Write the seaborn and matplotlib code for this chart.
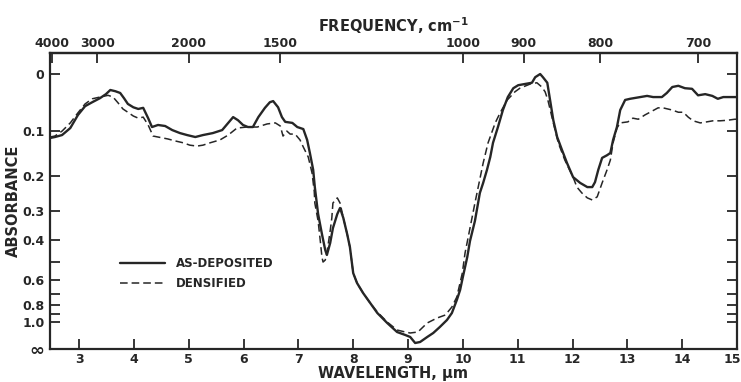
import numpy as np
import pandas as pd
import matplotlib
matplotlib.use("Agg")
import matplotlib.pyplot as plt
import matplotlib.transforms as mtransforms
import seaborn as sns

# ---- data (wavelength in µm, absorbance) ----
wl_as = [2.47, 2.56, 2.69, 2.84, 2.98, 3.11, 3.24, 3.38, 3.49, 3.57, 3.66, 3.75, 3.82, 3.89, 3.99,
         4.08, 4.17, 4.26, 4.33, 4.44, 4.57, 4.70, 4.84, 4.97, 5.12, 5.26, 5.44, 5.61, 5.72, 5.81,
         5.90, 5.99, 6.08, 6.17, 6.27, 6.39, 6.48, 6.54, 6.63, 6.70, 6.76, 6.89, 6.98, 7.09, 7.16,
         7.21, 7.27, 7.30, 7.36, 7.43, 7.49, 7.52, 7.58, 7.63, 7.71, 7.76, 7.82, 7.89, 7.94, 8.00,
         8.07, 8.18, 8.31, 8.44, 8.62, 8.80, 8.95, 9.04, 9.13, 9.22, 9.35, 9.46, 9.58, 9.71, 9.80,
         9.89, 9.95, 10.00, 10.08, 10.13, 10.22, 10.31, 10.37, 10.44, 10.50, 10.55, 10.64, 10.73,
         10.82, 10.92, 11.01, 11.13, 11.26, 11.32, 11.41, 11.46, 11.54, 11.59, 11.65, 11.72, 11.81,
         11.90, 12.01, 12.14, 12.27, 12.36, 12.41, 12.47, 12.54, 12.63, 12.69, 12.74, 12.81, 12.87,
         12.96, 13.05, 13.23, 13.36, 13.47, 13.63, 13.72, 13.82, 13.93, 14.05, 14.18, 14.29, 14.42,
         14.55, 14.65, 14.75, 14.87, 15.00]
abs_as = [0.115, 0.113, 0.109, 0.095, 0.070, 0.054, 0.047, 0.040, 0.033, 0.026, 0.028, 0.031, 0.040,
          0.050, 0.056, 0.059, 0.057, 0.076, 0.093, 0.089, 0.091, 0.099, 0.105, 0.109, 0.113, 0.109,
          0.105, 0.099, 0.085, 0.074, 0.080, 0.089, 0.093, 0.093, 0.074, 0.057, 0.047, 0.045, 0.056,
          0.074, 0.083, 0.085, 0.093, 0.097, 0.119, 0.147, 0.186, 0.230, 0.309, 0.379, 0.444, 0.466,
          0.414, 0.357, 0.309, 0.290, 0.322, 0.379, 0.431, 0.559, 0.620, 0.691, 0.777, 0.883, 1.024,
          1.209, 1.293, 1.360, 1.661, 1.594, 1.360, 1.235, 1.097, 0.977, 0.883, 0.749, 0.668, 0.582,
          0.476, 0.406, 0.332, 0.246, 0.219, 0.186, 0.156, 0.125, 0.093, 0.061, 0.038, 0.023, 0.018,
          0.016, 0.014, 0.005, 0.000, 0.005, 0.014, 0.043, 0.080, 0.113, 0.141, 0.170, 0.204, 0.219,
          0.230, 0.230, 0.217, 0.186, 0.158, 0.152, 0.147, 0.119, 0.093, 0.061, 0.043, 0.041, 0.038,
          0.036, 0.038, 0.038, 0.031, 0.021, 0.019, 0.023, 0.024, 0.035, 0.033, 0.036, 0.041, 0.038,
          0.038, 0.038]

wl_dens = [2.47, 2.56, 2.69, 2.84, 2.98, 3.11, 3.24, 3.38, 3.53, 3.62, 3.71, 3.80, 3.89, 3.99, 4.08,
           4.17, 4.26, 4.35, 4.44, 4.62, 4.75, 4.90, 5.02, 5.15, 5.26, 5.39, 5.57, 5.72, 5.88, 6.06,
           6.25, 6.43, 6.58, 6.67, 6.72, 6.79, 6.85, 6.94, 7.03, 7.09, 7.18, 7.25, 7.29, 7.30, 7.36,
           7.40, 7.43, 7.45, 7.49, 7.52, 7.58, 7.61, 7.63, 7.71, 7.76, 7.82, 7.89, 7.94, 8.00, 8.07,
           8.18, 8.31, 8.44, 8.62, 8.80, 8.95, 9.04, 9.18, 9.35, 9.53, 9.68, 9.80, 9.89, 9.99, 10.04,
           10.13, 10.22, 10.28, 10.37, 10.46, 10.59, 10.68, 10.81, 10.95, 11.04, 11.23, 11.35, 11.44,
           11.50, 11.55, 11.65, 11.74, 11.86, 12.01, 12.08, 12.17, 12.27, 12.36, 12.45, 12.54, 12.63,
           12.69, 12.74, 12.81, 12.87, 13.01, 13.10, 13.20, 13.32, 13.45, 13.56, 13.65, 13.82, 13.93,
           14.02, 14.11, 14.20, 14.33, 14.45, 14.56, 14.69, 14.82, 14.96, 15.00]
abs_dens = [0.113, 0.111, 0.101, 0.085, 0.066, 0.050, 0.041, 0.038, 0.035, 0.038, 0.048, 0.059, 0.065,
            0.072, 0.076, 0.074, 0.089, 0.111, 0.113, 0.117, 0.121, 0.125, 0.130, 0.132, 0.130, 0.125,
            0.119, 0.109, 0.095, 0.093, 0.093, 0.087, 0.085, 0.091, 0.111, 0.101, 0.107, 0.107, 0.119,
            0.134, 0.156, 0.194, 0.243, 0.275, 0.332, 0.406, 0.476, 0.500, 0.490, 0.457, 0.367, 0.322,
            0.275, 0.260, 0.275, 0.322, 0.379, 0.431, 0.559, 0.620, 0.691, 0.777, 0.871, 1.008, 1.161,
            1.209, 1.235, 1.209, 1.024, 0.948, 0.908, 0.816, 0.723, 0.559, 0.457, 0.357, 0.275, 0.230,
            0.170, 0.125, 0.085, 0.066, 0.043, 0.029, 0.023, 0.016, 0.014, 0.021, 0.029, 0.043, 0.085,
            0.125, 0.163, 0.204, 0.230, 0.246, 0.260, 0.266, 0.257, 0.219, 0.186, 0.163, 0.125, 0.095,
            0.085, 0.083, 0.076, 0.078, 0.070, 0.063, 0.057, 0.057, 0.061, 0.065, 0.065, 0.074, 0.081,
            0.085, 0.083, 0.081, 0.081, 0.080, 0.078, 0.078]

series_names = ["AS-DEPOSITED", "DENSIFIED"]
wl_ticks = list(range(3, 16))
freq_ticks = [4000, 3000, 2000, 1500, 1000, 900, 800, 700]
INF_A = 8.0
abs_ticks = [0, 0.1, 0.2, 0.3, 0.4, 0.5, 0.6, 0.7, 0.8, 0.9, 1.0, INF_A]
abs_tick_labels = ["0", "0.1", "0.2", "0.3", "0.4", "", "0.6", "", "0.8", "", "1.0", "\u221e"]

df = pd.concat([
    pd.DataFrame({"wavelength": wl_as, "absorbance": abs_as, "sample": series_names[0]}),
    pd.DataFrame({"wavelength": wl_dens, "absorbance": abs_dens, "sample": series_names[1]}),
], ignore_index=True)

sns.set_style("white")
plt.rcParams["font.family"] = ["DejaVu Sans"]
INK = "#262626"

fig = plt.figure(figsize=(7.41, 3.82), dpi=100)
ax = fig.add_axes([50 / 741, 1 - 349 / 382, (737 - 50) / 741, (349 - 53) / 382])

# absorbance axis is linear in transmittance (1 - 10^-A)
def fwd(a):
    return 1.0 - np.power(10.0, -np.asarray(a, dtype=float))

def inv(y):
    return -np.log10(np.clip(1.0 - np.asarray(y, dtype=float), 1e-12, None))

ax.set_yscale("function", functions=(fwd, inv))

sns.lineplot(data=df[df["sample"] == series_names[0]], x="wavelength", y="absorbance",
             ax=ax, color=INK, lw=1.7, estimator=None, sort=False, label=series_names[0])
sns.lineplot(data=df[df["sample"] == series_names[1]], x="wavelength", y="absorbance",
             ax=ax, color=INK, lw=1.1, estimator=None, sort=False, label=series_names[1],
             dashes=False)
ax.lines[1].set_dashes((5, 2.6))

ax.set_xlim(2.47, 15.0)
ax.set_ylim(INF_A, -0.032)

ax.set_xticks(wl_ticks)
ax.set_xticklabels([str(t) for t in wl_ticks])
ax.set_yticks(abs_ticks)
ax.set_yticklabels(abs_tick_labels)

ax.tick_params(axis="both", direction="in", length=7, width=1.3, color=INK)
ax.tick_params(axis="y", right=True, left=True, pad=4)
ax.tick_params(axis="x", top=False, bottom=True, pad=3)

for lab in ax.get_xticklabels() + ax.get_yticklabels():
    lab.set_fontsize(9)
    lab.set_fontweight("bold")
    lab.set_color(INK)
# infinity label larger, last wavelength label nudged inside the canvas
ax.yaxis.get_major_ticks()[-1].label1.set_fontsize(13)
last = ax.xaxis.get_major_ticks()[-1].label1
last.set_transform(last.get_transform() +
                   mtransforms.ScaledTranslation(-5 / 100, 0, fig.dpi_scale_trans))

for sp in ax.spines.values():
    sp.set_visible(True)
    sp.set_linewidth(1.6)
    sp.set_color(INK)

ax.set_xlabel("WAVELENGTH, \u03bcm", fontsize=10.5, fontweight="bold", color=INK, labelpad=0)
ax.set_ylabel("ABSORBANCE", fontsize=10.5, fontweight="bold", color=INK, labelpad=1)

sec = ax.secondary_xaxis("top", functions=(lambda x: 10000.0 / np.asarray(x, dtype=float),
                                           lambda f: 10000.0 / np.asarray(f, dtype=float)))
sec.set_xticks(freq_ticks)
sec.set_xticklabels([str(f) for f in freq_ticks], fontsize=9, fontweight="bold", color=INK)
sec.tick_params(direction="in", length=7, width=1.3, color=INK, pad=2)
sec.spines["top"].set_linewidth(1.6)
sec.spines["top"].set_color(INK)
sec.set_xlabel("FREQUENCY, cm$^{\\mathbf{-1}}$", fontsize=10.5, fontweight="bold", color=INK, labelpad=4)

leg = ax.legend(loc="upper left", bbox_to_anchor=((120 - 50) / 687, (349 - 257) / 296),
                frameon=False, fontsize=8.5, handlelength=3.8, handletextpad=0.9,
                labelspacing=0.6, borderpad=0, borderaxespad=0)
for t in leg.get_texts():
    t.set_fontweight("bold")
    t.set_color(INK)

fig.savefig("out.png", dpi=100)
